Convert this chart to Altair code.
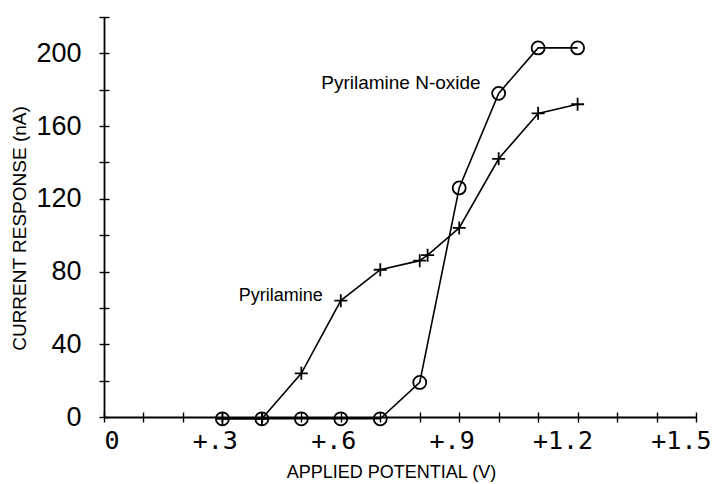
import altair as alt
import pandas as pd

# Pyrilamine (+ markers)
pyr_x = [0.3, 0.4, 0.5, 0.6, 0.7, 0.8, 0.82, 0.9, 1.0, 1.1, 1.2]
pyr_y = [-1, -1, 24, 64, 81, 86, 89, 104, 142, 167, 172]

# Pyrilamine N-oxide (o markers)
nox_x = [0.3, 0.4, 0.5, 0.6, 0.7, 0.8, 0.9, 1.0, 1.1, 1.2]
nox_y = [-1, -1, -1, -1, -1, 19, 126, 178, 203, 203]

series_names = ["Pyrilamine", "Pyrilamine N-oxide"]

x_tick_values = [0, 0.1, 0.2, 0.3, 0.4, 0.5, 0.6, 0.7, 0.8, 0.9, 1.0, 1.1, 1.2, 1.3, 1.4, 1.5]
x_label_values = [0, 0.3, 0.6, 0.9, 1.2, 1.5]
x_label_texts = ["0", "+.3", "+.6", "+.9", "+1.2", "+1.5"]

y_tick_values = [0, 20, 40, 60, 80, 100, 120, 140, 160, 180, 200, 220]
y_label_values = [0, 40, 80, 120, 160, 200]

# annotation anchors: label text placed next to a data point of its series
ann_text = ["Pyrilamine", "Pyrilamine N-oxide"]
ann_x = [0.6, 1.0]
ann_y = [64, 178]

df = pd.concat([
    pd.DataFrame({"x": pyr_x, "y": pyr_y, "series": series_names[0]}),
    pd.DataFrame({"x": nox_x, "y": nox_y, "series": series_names[1]}),
], ignore_index=True)

ann_df = pd.DataFrame({"text": ann_text, "x": ann_x, "y": ann_y})

label_expr = ""
for v, t in zip(x_label_values, x_label_texts):
    label_expr += f"abs(datum.value - {v}) < 0.001 ? '{t}' : "
label_expr += "''"

xscale = alt.Scale(domain=[0, 1.5], nice=False, zero=False)
yscale = alt.Scale(domain=[0, 220], nice=False, zero=False)

x_axis_main = alt.Axis(
    orient="bottom", values=x_label_values, labelExpr=label_expr,
    ticks=False, tickSize=0, domain=True, domainColor="black", domainWidth=1.8,
    labelFont="DejaVu Sans Mono", labelFontSize=25, labelColor="black",
    labelAlign="right", labelOffset=15, labelPadding=11, labelBaseline="top",
    labelFlush=False, labelOverlap=False, grid=False,
    title="APPLIED POTENTIAL (V)", titleFont="Liberation Sans", titleFontSize=18,
    titleFontWeight="normal", titleColor="black", titleX=287, titleY=55,
    titleAlign="center", titleBaseline="middle",
)
y_axis_main = alt.Axis(
    orient="left", values=y_label_values,
    ticks=False, tickSize=0, domain=True, domainColor="black", domainWidth=1.8,
    labelFont="Liberation Sans", labelFontSize=27, labelColor="black",
    labelPadding=23, labelBaseline="middle", labelFlush=False, labelOverlap=False,
    grid=False,
    title="CURRENT RESPONSE (nA)", titleFont="Liberation Sans", titleFontSize=19,
    titleFontWeight="normal", titleColor="black", titleX=-85, titleY=211,
    titleAngle=270, titleAlign="center", titleBaseline="middle",
)
x_axis_ticks = alt.Axis(
    orient="bottom", values=x_tick_values, labels=False, domain=False,
    ticks=True, tickSize=10, tickColor="black", tickWidth=1.4, offset=-5,
    title=None, grid=False,
)
y_axis_ticks = alt.Axis(
    orient="left", values=y_tick_values, labels=False, domain=False,
    ticks=True, tickSize=10, tickColor="black", tickWidth=1.4, offset=-5,
    title=None, grid=False,
)

base = alt.Chart(df)

lines = base.mark_line(color="black", strokeWidth=1.6, clip=False).encode(
    x=alt.X("x:Q", scale=xscale, axis=x_axis_main),
    y=alt.Y("y:Q", scale=yscale, axis=y_axis_main),
    detail="series:N",
)

plus_path = "M-1,0L1,0M0,-1L0,1"
points = base.mark_point(filled=False, color="black", strokeWidth=1.8, size=169,
                         opacity=1, clip=False).encode(
    x=alt.X("x:Q", scale=xscale, axis=x_axis_ticks),
    y=alt.Y("y:Q", scale=yscale, axis=y_axis_ticks),
    shape=alt.Shape("series:N", scale=alt.Scale(domain=series_names,
                                                 range=[plus_path, "circle"]),
                    legend=None),
)

ann1 = alt.Chart(ann_df).transform_filter(
    alt.datum.text == ann_text[0]
).mark_text(align="right", baseline="middle", dx=-18, dy=-5,
            font="Liberation Sans", fontSize=18, color="black").encode(
    x=alt.X("x:Q", scale=xscale, axis=None),
    y=alt.Y("y:Q", scale=yscale, axis=None),
    text="text:N",
)
ann2 = alt.Chart(ann_df).transform_filter(
    alt.datum.text == ann_text[1]
).mark_text(align="right", baseline="middle", dx=-18, dy=-10,
            font="Liberation Sans", fontSize=19, color="black").encode(
    x=alt.X("x:Q", scale=xscale, axis=None),
    y=alt.Y("y:Q", scale=yscale, axis=None),
    text="text:N",
)

chart = alt.layer(lines, points, ann1, ann2).resolve_axis(
    x="independent", y="independent"
).properties(
    width=592, height=400,
    padding={"left": 104, "top": 17, "right": 19, "bottom": 67},
    autosize=alt.AutoSizeParams(type="none"),
    background="white",
).configure_view(stroke=None)

chart.save("out.html", embed_options={"renderer": "svg", "actions": False})
